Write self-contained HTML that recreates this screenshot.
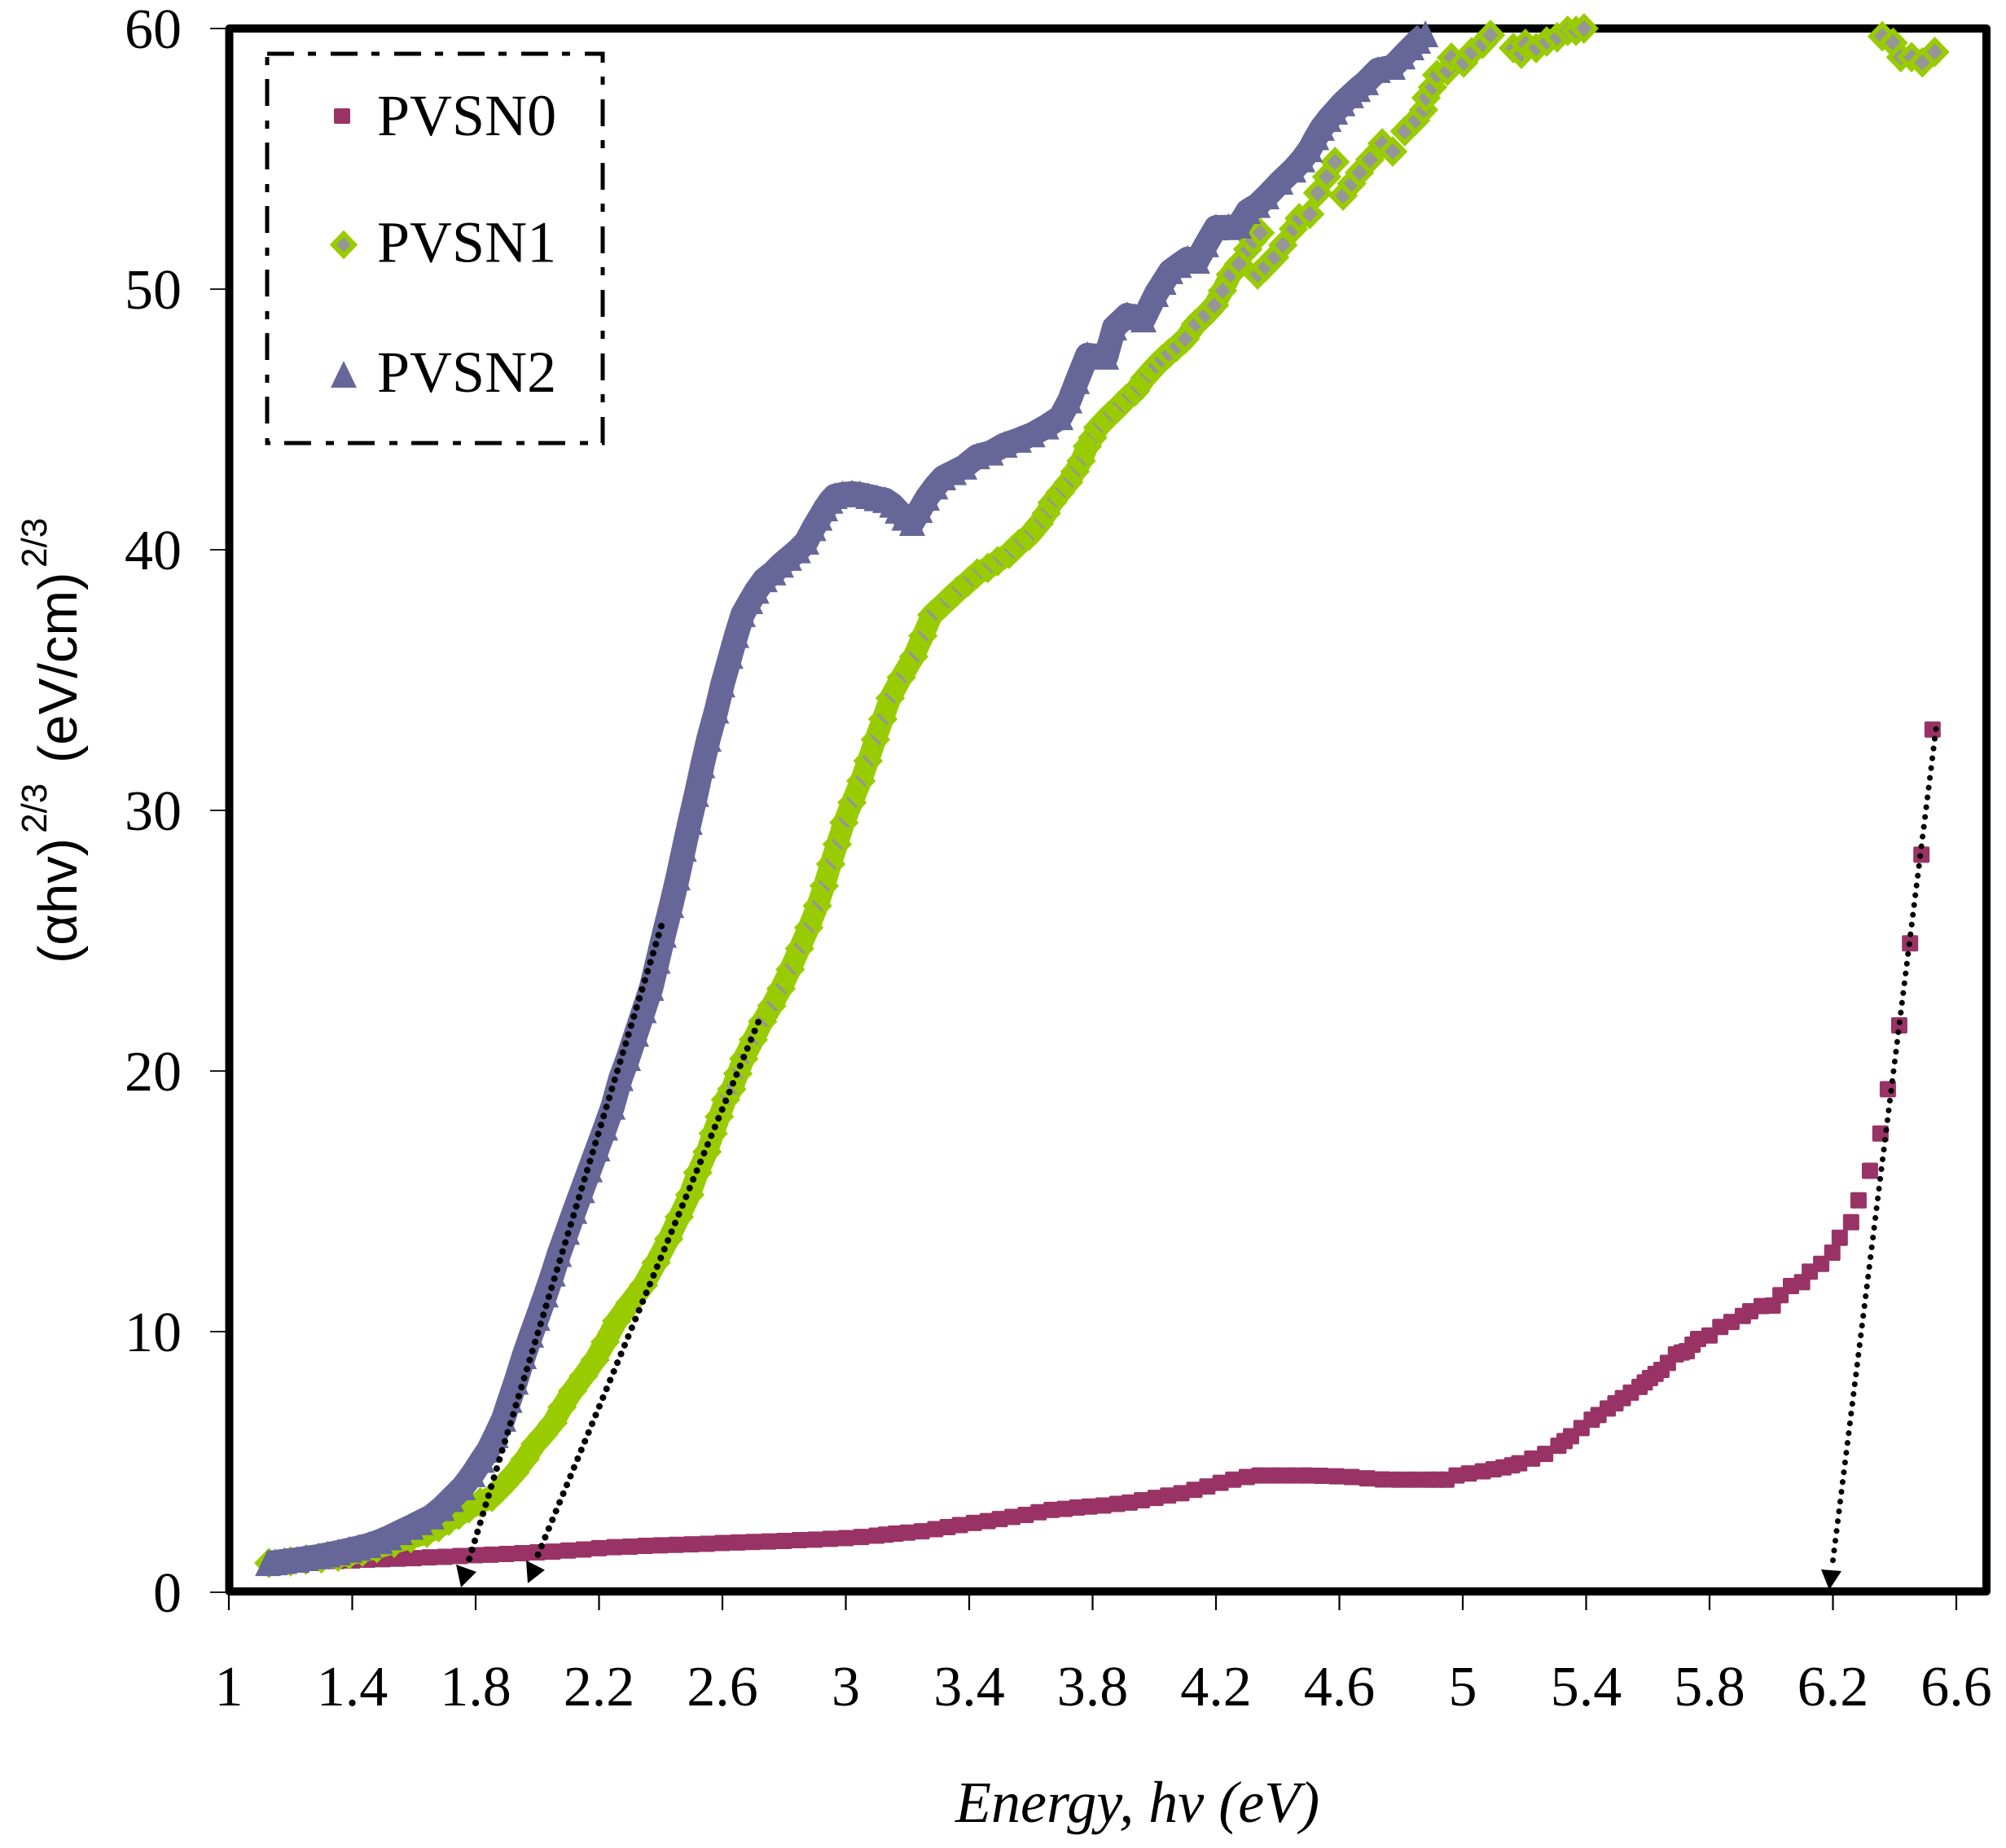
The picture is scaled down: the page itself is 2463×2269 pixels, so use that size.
<!DOCTYPE html>
<html lang="en">
<head>
<meta charset="utf-8">
<title>Tauc plot of PVSN films</title>
<style>
html,body{margin:0;padding:0;background:#fff;}
svg{display:block;}
.tick-label{font-family:"Liberation Serif",serif;font-size:70px;fill:#000;}
.legend-label{font-family:"Liberation Serif",serif;font-size:72px;fill:#000;}
.axis-title-x{font-family:"Liberation Serif",serif;font-style:italic;font-size:72px;fill:#000;}
.axis-title-y{font-family:"Liberation Sans",sans-serif;font-size:67px;fill:#000;}
.axis-title-sup{font-family:"Liberation Sans",sans-serif;font-size:44px;fill:#000;}
</style>
</head>
<body>
<svg id="chart" xmlns="http://www.w3.org/2000/svg" width="2463" height="2269" viewBox="0 0 2463 2269">
  <rect x="0" y="0" width="2463" height="2269" fill="#ffffff"/>
  <g id="ticks"></g>
  <rect x="281.5" y="35" width="2157.5" height="1919" fill="none" stroke="#000" stroke-width="10" stroke-linejoin="round"/>
  <g>
    <rect x="328" y="66" width="412" height="478" fill="none" stroke="#000" stroke-width="5" stroke-dasharray="33 17 10 18"/>
    <rect x="410" y="133" width="20" height="19" rx="2" fill="#993366"/>
    <text class="legend-label" x="463" y="166">PVSN0</text>
    <path d="M422 287L435 300.5L422 314L409 300.5Z" fill="#969696" stroke="#99cc00" stroke-width="6"/>
    <text class="legend-label" x="463" y="321.5">PVSN1</text>
    <path d="M422 443L438 476L406 476Z" fill="#666699"/>
    <text class="legend-label" x="463" y="481">PVSN2</text>
  </g>
  <g id="series0"></g>
  <g id="series1"></g>
  <g id="series2"></g>
  <g fill="#000">
    <line x1="812" y1="1137" x2="575" y2="1918" stroke="#000" stroke-width="8" stroke-linecap="round" stroke-dasharray="0.1 11.5"/>
    <polygon points="566,1949 560,1921 585,1930"/>
    <line x1="931" y1="1255" x2="658" y2="1915" stroke="#000" stroke-width="8" stroke-linecap="round" stroke-dasharray="0.1 11.5"/>
    <polygon points="648,1944 646,1916 669,1927.6"/>
    <line x1="2377" y1="895" x2="2250" y2="1920" stroke="#000" stroke-width="7" stroke-linecap="round" stroke-dasharray="0.1 12"/>
    <polygon points="2246,1952 2236,1927 2261,1929"/>
  </g>
  <text class="axis-title-x" x="1173" y="2237">Energy, hv (eV)</text>
  <g>
    <text class="axis-title-y" transform="translate(94 1183) rotate(-90)">(αhv)</text>
    <text class="axis-title-sup" transform="translate(57 1023) rotate(-90)">2/3</text>
    <text class="axis-title-y" transform="translate(94 937) rotate(-90)">(eV/cm)</text>
    <text class="axis-title-sup" transform="translate(57 697) rotate(-90)">2/3</text>
  </g>
</svg>
<script>
const xTickLabels = ["1","1.4","1.8","2.2","2.6","3","3.4","3.8","4.2","4.6","5","5.4","5.8","6.2","6.6"];
const yTickLabels = ["0","10","20","30","40","50","60"];

const pvsn0Points = [[1.35,1.2],[1.4,1.22],[1.45,1.25],[1.5,1.27],[1.55,1.29],[1.6,1.31],[1.65,1.34],[1.7,1.36],[1.75,1.39],[1.8,1.42],[1.85,1.44],[1.9,1.47],[1.95,1.5],[2.0,1.53],[2.05,1.56],[2.1,1.6],[2.15,1.64],[2.2,1.69],[2.25,1.73],[2.3,1.75],[2.35,1.78],[2.4,1.8],[2.45,1.82],[2.5,1.84],[2.55,1.86],[2.6,1.89],[2.65,1.91],[2.7,1.93],[2.75,1.95],[2.8,1.97],[2.85,2.0],[2.9,2.02],[2.95,2.05],[3.0,2.08],[3.05,2.12],[3.1,2.17],[3.13,2.21],[3.162,2.25],[3.2,2.29],[3.246,2.34],[3.29,2.42],[3.33,2.5],[3.37,2.58],[3.415,2.66],[3.46,2.73],[3.499,2.81],[3.54,2.89],[3.583,2.97],[3.625,3.07],[3.667,3.16],[3.71,3.2],[3.75,3.25],[3.79,3.29],[3.835,3.33],[3.88,3.39],[3.92,3.44],[3.96,3.53],[4.004,3.62],[4.045,3.71],[4.088,3.8],[4.13,3.93],[4.172,4.06],[4.215,4.2],[4.256,4.32],[4.3,4.42],[4.341,4.48],[4.39,4.48],[4.44,4.48],[4.49,4.48],[4.54,4.47],[4.59,4.45],[4.64,4.42],[4.69,4.37],[4.74,4.33],[4.79,4.32],[4.84,4.32],[4.89,4.32],[4.92,4.32],[4.947,4.32],[4.98,4.48],[5.02,4.56],[5.065,4.64],[5.1,4.72],[5.132,4.79],[5.16,4.87],[5.183,4.95],[5.225,5.13],[5.267,5.31],[5.31,5.62],[5.33,5.8],[5.351,5.99],[5.385,6.3],[5.418,6.62],[5.44,6.8],[5.47,7.05],[5.495,7.25],[5.519,7.45],[5.545,7.66],[5.573,7.88],[5.59,8.05],[5.607,8.22],[5.625,8.38],[5.644,8.53],[5.665,8.8],[5.691,9.13],[5.71,9.2],[5.726,9.25],[5.745,9.5],[5.763,9.72],[5.8,9.85],[5.835,10.18],[5.871,10.37],[5.908,10.6],[5.932,10.78],[5.969,10.98],[6.005,11.0],[6.03,11.4],[6.064,11.75],[6.1,11.9],[6.125,12.3],[6.162,12.6],[6.198,13.03],[6.222,13.6],[6.259,14.2],[6.283,15.04],[6.32,16.17],[6.354,17.6],[6.378,19.3],[6.415,21.75],[6.45,24.9],[6.487,28.3],[6.523,33.1]];

const pvsn1Points = [[1.13,1.12],[1.2,1.18],[1.25,1.25],[1.3,1.3],[1.354,1.37],[1.39,1.45],[1.433,1.56],[1.48,1.7],[1.536,1.9],[1.59,2.08],[1.642,2.28],[1.68,2.5],[1.713,2.75],[1.745,2.97],[1.778,3.22],[1.815,3.45],[1.853,3.66],[1.89,4.1],[1.927,4.58],[1.96,5.1],[1.993,5.69],[2.02,6.05],[2.051,6.5],[2.08,7.1],[2.114,7.72],[2.15,8.3],[2.187,8.91],[2.22,9.6],[2.257,10.41],[2.3,11.1],[2.344,11.78],[2.385,12.65],[2.426,13.56],[2.46,14.4],[2.494,15.25],[2.52,16.1],[2.55,16.9],[2.57,17.6],[2.59,18.25],[2.61,18.9],[2.63,19.3],[2.65,19.9],[2.669,20.47],[2.7,21.2],[2.73,21.9],[2.76,22.5],[2.79,23.16],[2.82,23.9],[2.85,24.7],[2.88,25.5],[2.908,26.34],[2.93,27.1],[2.951,27.94],[2.972,28.7],[2.994,29.53],[3.02,30.3],[3.049,31.13],[3.072,31.9],[3.096,32.72],[3.12,33.5],[3.144,34.31],[3.18,35.1],[3.22,35.9],[3.25,36.7],[3.279,37.5],[3.32,37.95],[3.36,38.4],[3.397,38.78],[3.426,39.09],[3.46,39.3],[3.492,39.56],[3.53,39.85],[3.561,40.22],[3.595,40.55],[3.627,41.0],[3.65,41.4],[3.669,41.81],[3.695,42.2],[3.722,42.59],[3.743,43.0],[3.763,43.41],[3.783,43.97],[3.8,44.3],[3.817,44.69],[3.85,45.1],[3.883,45.47],[3.91,45.8],[3.939,46.09],[3.97,46.6],[4.005,47.06],[4.025,47.3],[4.047,47.53],[4.073,47.8],[4.1,48.09],[4.134,48.66],[4.165,49.0],[4.195,49.38],[4.221,49.94],[4.247,50.56],[4.274,50.97],[4.303,51.53],[4.32,51.85],[4.343,52.16],[4.335,50.56],[4.36,50.85],[4.39,51.22],[4.417,51.69],[4.451,52.31],[4.47,52.72],[4.504,52.88],[4.53,53.69],[4.559,54.31],[4.586,54.88],[4.612,53.59],[4.64,54.05],[4.665,54.47],[4.699,54.97],[4.739,55.59],[4.773,55.28],[4.812,56.06],[4.847,56.47],[4.873,56.88],[4.881,57.34],[4.902,57.75],[4.916,58.22],[4.95,58.38],[4.963,58.88],[5.003,58.69],[5.029,59.09],[5.064,59.41],[5.09,59.75],[5.164,59.25],[5.19,59.03],[5.203,59.41],[5.238,59.25],[5.272,59.5],[5.306,59.66],[5.34,59.91],[5.367,59.91],[5.393,60],[6.36,59.7],[6.395,59.45],[6.42,58.9],[6.455,58.9],[6.49,58.7],[6.53,59.1]];

const pvsn2Points = [[1.127,1.09],[1.15,1.12],[1.18,1.17],[1.22,1.22],[1.25,1.28],[1.29,1.35],[1.32,1.42],[1.354,1.5],[1.39,1.6],[1.42,1.68],[1.454,1.78],[1.49,1.93],[1.52,2.08],[1.554,2.28],[1.59,2.48],[1.62,2.66],[1.657,2.88],[1.69,3.2],[1.72,3.55],[1.758,4.0],[1.79,4.5],[1.82,5.05],[1.842,5.44],[1.865,6.0],[1.89,6.63],[1.91,7.35],[1.93,8.05],[1.956,9.03],[1.98,9.85],[2.0,10.5],[2.027,11.4],[2.05,12.2],[2.07,12.95],[2.096,13.8],[2.12,14.6],[2.145,15.4],[2.17,16.2],[2.195,17.0],[2.22,17.8],[2.244,18.6],[2.27,19.7],[2.294,20.47],[2.32,21.4],[2.345,22.3],[2.369,23.16],[2.39,24.2],[2.41,25.2],[2.434,26.34],[2.455,27.4],[2.475,28.5],[2.494,29.53],[2.515,30.6],[2.535,31.7],[2.555,32.72],[2.58,33.8],[2.6,34.8],[2.626,35.9],[2.645,36.7],[2.666,37.5],[2.69,38.0],[2.71,38.4],[2.737,38.84],[2.765,39.1],[2.79,39.4],[2.816,39.66],[2.845,39.95],[2.872,40.28],[2.895,40.8],[2.915,41.2],[2.933,41.56],[2.95,41.85],[2.964,42.03],[2.99,42.1],[3.02,42.13],[3.045,42.1],[3.073,42.03],[3.1,41.95],[3.128,41.88],[3.15,41.7],[3.168,41.47],[3.19,41.2],[3.215,41.0],[3.24,41.5],[3.263,41.97],[3.29,42.4],[3.316,42.75],[3.35,42.95],[3.384,43.16],[3.426,43.56],[3.47,43.7],[3.515,44.0],[3.561,44.19],[3.605,44.4],[3.65,44.7],[3.696,45.06],[3.725,45.7],[3.749,46.44],[3.783,47.44],[3.815,47.4],[3.844,47.38],[3.87,48.5],[3.912,48.97],[3.94,48.9],[3.965,48.81],[4.005,49.78],[4.03,50.25],[4.052,50.66],[4.08,50.9],[4.108,51.13],[4.139,51.06],[4.168,51.69],[4.2,52.34],[4.24,52.35],[4.274,52.41],[4.303,52.97],[4.335,53.2],[4.364,53.53],[4.409,54.09],[4.451,54.56],[4.48,54.95],[4.504,55.34],[4.525,55.8],[4.543,56.16],[4.565,56.5],[4.586,56.78],[4.61,57.1],[4.638,57.41],[4.66,57.65],[4.686,57.91],[4.725,58.38],[4.773,58.5],[4.805,58.9],[4.834,59.25],[4.855,59.5],[4.879,59.75]];

const SVG_NS = "http://www.w3.org/2000/svg";
function xScale(energy){ return 281 + (energy - 1) * 378.75; }
function yScale(value){ return 1955 - value * 32; }

const tickGroup = document.getElementById("ticks");
xTickLabels.forEach(function(label){
  const x = xScale(parseFloat(label));
  const tick = document.createElementNS(SVG_NS, "line");
  
  
  tick.setAttribute("x1", x); tick.setAttribute("x2", x);
  tick.setAttribute("y1", 1955); tick.setAttribute("y2", 1977);
  tick.setAttribute("stroke", "#000"); tick.setAttribute("stroke-width", 2.2);
  tickGroup.appendChild(tick);
  const text = document.createElementNS(SVG_NS, "text");
  
  
  text.setAttribute("class", "tick-label");
  text.setAttribute("x", x); text.setAttribute("y", 2094);
  text.setAttribute("text-anchor", "middle");
  text.textContent = label;
  tickGroup.appendChild(text);
});
yTickLabels.forEach(function(label){
  const y = yScale(parseFloat(label));
  const tick = document.createElementNS(SVG_NS, "line");
  
  
  tick.setAttribute("x1", 258); tick.setAttribute("x2", 281);
  tick.setAttribute("y1", y); tick.setAttribute("y2", y);
  tick.setAttribute("stroke", "#000"); tick.setAttribute("stroke-width", 1.8);
  tickGroup.appendChild(tick);
  const text = document.createElementNS(SVG_NS, "text");
  
  
  text.setAttribute("class", "tick-label");
  text.setAttribute("x", 223); text.setAttribute("y", y + 24);
  text.setAttribute("text-anchor", "end");
  text.textContent = label;
  tickGroup.appendChild(text);
});

function bandPoints(points, yOffset){
  return points.map(function(p){ return xScale(p[0]) + "," + (yScale(p[1]) + yOffset); }).join(" ");
}

const group0 = document.getElementById("series0");
pvsn0Points.forEach(function(p){
  const cx = xScale(p[0]), cy = yScale(p[1]);
  const mark = document.createElementNS(SVG_NS, "rect");
  
  
  mark.setAttribute("x", cx - 10); mark.setAttribute("y", cy - 10);
  mark.setAttribute("width", 20); mark.setAttribute("height", 20);
  mark.setAttribute("rx", 2);
  mark.setAttribute("fill", "#993366");
  group0.appendChild(mark);
});

const group1 = document.getElementById("series1");
const band1 = document.createElementNS(SVG_NS, "polyline");


band1.setAttribute("points", bandPoints(pvsn1Points.filter(function(p){ return p[0] < 4.3; }), 0));
band1.setAttribute("fill", "none");
band1.setAttribute("stroke", "#99cc00");
band1.setAttribute("stroke-width", 27);
band1.setAttribute("stroke-linejoin", "round");
group1.appendChild(band1);
pvsn1Points.forEach(function(p){
  const cx = xScale(p[0]), cy = yScale(p[1]);
  const mark = document.createElementNS(SVG_NS, "path");
  
  
  mark.setAttribute("d", "M" + cx + " " + (cy - 14.5) + "L" + (cx + 14) + " " + cy + "L" + cx + " " + (cy + 14.5) + "L" + (cx - 14) + " " + cy + "Z");
  mark.setAttribute("fill", p[0] < 4.0 ? "#99cc00" : "#969696");
  mark.setAttribute("stroke", "#99cc00");
  mark.setAttribute("stroke-width", 6);
  group1.appendChild(mark);
  if (p[0] >= 2.6 && p[0] < 4.0) {
    const stripe = document.createElementNS(SVG_NS, "line");
    
    
    stripe.setAttribute("x1", cx - 6); stripe.setAttribute("y1", cy - 6);
    stripe.setAttribute("x2", cx + 6); stripe.setAttribute("y2", cy + 6);
    stripe.setAttribute("stroke", "#969696");
    stripe.setAttribute("stroke-width", p[0] < 3.3 ? 3.5 : 2.5);
    group1.appendChild(stripe);
  }
});

const group2 = document.getElementById("series2");
const band2 = document.createElementNS(SVG_NS, "polyline");


band2.setAttribute("points", bandPoints(pvsn2Points, -1));
band2.setAttribute("fill", "none");
band2.setAttribute("stroke", "#666699");
band2.setAttribute("stroke-width", 30);
band2.setAttribute("stroke-linejoin", "round");
group2.appendChild(band2);
pvsn2Points.forEach(function(p){
  const cx = xScale(p[0]), cy = yScale(p[1]);
  const mark = document.createElementNS(SVG_NS, "path");
  
  
  mark.setAttribute("d", "M" + cx + " " + (cy - 18) + "L" + (cx + 16) + " " + (cy + 15) + "L" + (cx - 16) + " " + (cy + 15) + "Z");
  mark.setAttribute("fill", "#666699");
  group2.appendChild(mark);
});
</script>
</body>
</html>
